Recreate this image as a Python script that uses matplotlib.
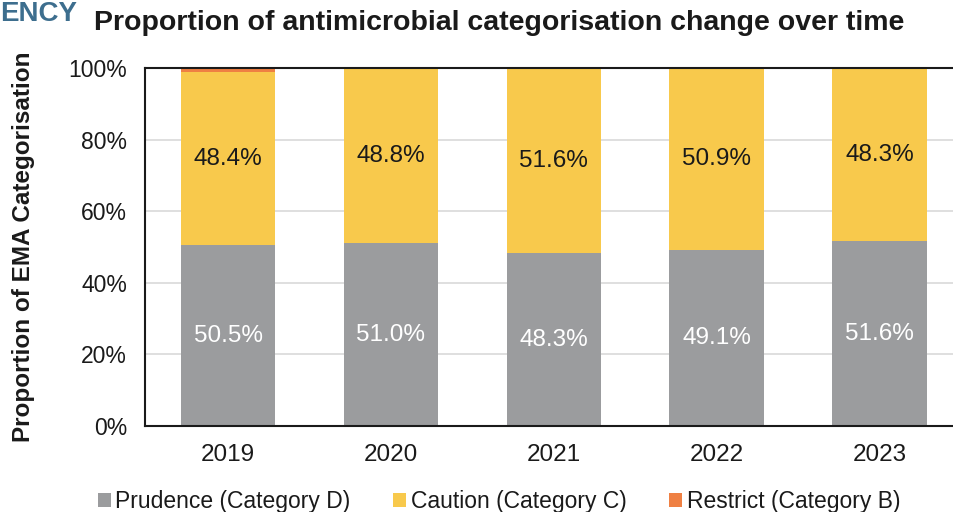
import matplotlib
matplotlib.use("Agg")
import matplotlib.pyplot as plt
from matplotlib.ticker import PercentFormatter
import numpy as np

plt.rcParams["font.family"] = ["Liberation Sans", "DejaVu Sans"]

years = ["2019", "2020", "2021", "2022", "2023"]
prudence = [50.5, 51.0, 48.3, 49.1, 51.6]
caution = [48.4, 48.8, 51.6, 50.9, 48.3]
restrict = [1.1, 0.2, 0.1, 0.0, 0.1]

series = [
    ("Prudence (Category D)", prudence, "#9b9c9e", "white"),
    ("Caution (Category C)", caution, "#f8c94c", "#1a1a1a"),
    ("Restrict (Category B)", restrict, "#ef8043", None),
]

fig = plt.figure(figsize=(9.54, 5.12), dpi=100)
ax = fig.add_axes([0.152, 0.168, 0.857, 0.699])

x = np.arange(len(years))
bottom = np.zeros(len(years))
for name, vals, color, txt in series:
    vals = np.array(vals)
    ax.bar(x, vals, width=0.58, bottom=bottom, color=color, label=name, zorder=2)
    if txt is not None:
        for xi, b, v in zip(x, bottom, vals):
            ax.text(xi, b + v / 2, f"{v:.1f}%", ha="center", va="center",
                    fontsize=17.5, color=txt, zorder=3)
    bottom += vals

ax.set_xlim(-0.51, len(years) - 0.49)
ax.set_ylim(0, 100)
ax.set_xticks(x, years)
ax.set_yticks(range(0, 101, 20))
ax.yaxis.set_major_formatter(PercentFormatter(decimals=0))
ax.tick_params(length=0, labelsize=16.5, colors="#1a1a1a", pad=13)
ax.tick_params(axis="x", labelsize=17.5, pad=13)
ax.grid(axis="y", color="#d9d9d9", linewidth=1.2, zorder=0)
for s in ax.spines.values():
    s.set_color("#1a1a1a")
    s.set_linewidth(1.5)

ax.set_ylabel("Proportion of EMA Categorisation", fontsize=17.5, fontweight="bold",
              color="#1a1a1a", labelpad=24)
fig.text(0.523, 0.955, "Proportion of antimicrobial categorisation change over time",
         ha="center", va="center", fontsize=20.5, fontweight="bold", color="#1a1a1a")
fig.text(0.0, 0.999, "ENCY", ha="left", va="top", fontsize=20,
         fontweight="bold", color="#3d6e8e")

ax.legend(loc="lower center", bbox_to_anchor=(0.433, -0.3), ncol=3, frameon=False,
          fontsize=16.5, handlelength=0.58, handleheight=0.58, handletextpad=0.2,
          columnspacing=1.85, labelcolor="#1a1a1a")

fig.savefig("out.png", dpi=100)
